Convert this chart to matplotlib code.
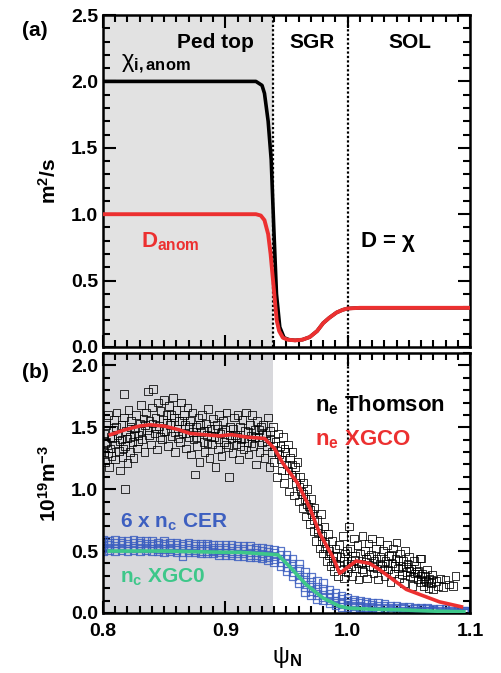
import numpy as np
import matplotlib.pyplot as plt
import matplotlib.ticker as ticker

plt.rcParams["font.family"] = ["Liberation Sans", "DejaVu Sans"]
plt.rcParams["font.weight"] = "bold"
plt.rcParams["axes.labelweight"] = "bold"
plt.rcParams["mathtext.fontset"] = "custom"
plt.rcParams["mathtext.rm"] = "Liberation Sans"
plt.rcParams["mathtext.bf"] = "Liberation Sans:bold"
plt.rcParams["mathtext.it"] = "Liberation Sans:italic"

# ── (a) transport coefficients ────────────────────────────────────────────
chi_psi = [0.80, 0.925, 0.930, 0.932, 0.935, 0.9375, 0.9396, 0.9418, 0.9445,
           0.948, 0.952, 0.957, 0.963, 0.969, 0.975, 0.980, 0.985, 0.991,
           0.996, 1.000, 1.010, 1.100]
chi_val = [2.00, 2.00, 1.97, 1.91, 1.70, 1.41, 0.90, 0.40, 0.15,
           0.07, 0.055, 0.05, 0.055, 0.075, 0.12, 0.18, 0.22, 0.26,
           0.28, 0.29, 0.295, 0.295]

d_psi = [0.80, 0.925, 0.929, 0.932, 0.935, 0.937, 0.939, 0.941, 0.942,
         0.944, 0.947, 0.951, 0.957, 0.963, 0.969, 0.975, 0.980, 0.985,
         0.991, 0.996, 1.000, 1.010, 1.100]
d_val = [1.00, 1.00, 0.99, 0.955, 0.85, 0.70, 0.50, 0.30, 0.20,
         0.12, 0.07, 0.055, 0.05, 0.055, 0.075, 0.12, 0.18, 0.22,
         0.26, 0.28, 0.29, 0.295, 0.295]

# ── (b) densities ─────────────────────────────────────────────────────────
# Thomson n_e
ne_pts = [
    (0.801, 1.45), (0.801, 1.30), (0.802, 1.22), (0.803, 1.52), (0.803, 1.38), (0.804, 1.60),
    (0.805, 1.18), (0.806, 1.42), (0.806, 1.33), (0.807, 1.27), (0.808, 1.48), (0.809, 1.56),
    (0.810, 1.36), (0.810, 1.24), (0.811, 1.62), (0.812, 1.44), (0.813, 1.31), (0.814, 1.15),
    (0.815, 1.52), (0.815, 1.40), (0.816, 1.26), (0.817, 1.77), (0.817, 1.58), (0.818, 1.00),
    (0.818, 1.35), (0.819, 1.47), (0.820, 1.21), (0.821, 1.64), (0.822, 1.42), (0.822, 1.30),
    (0.823, 1.55), (0.824, 1.38), (0.825, 1.25), (0.826, 1.49), (0.827, 1.60), (0.828, 1.33),
    (0.829, 1.44), (0.830, 1.53),
    (0.831, 1.68), (0.832, 1.40), (0.833, 1.57), (0.834, 1.30), (0.835, 1.62), (0.836, 1.48),
    (0.837, 1.79), (0.838, 1.55), (0.839, 1.36), (0.840, 1.66), (0.841, 1.81), (0.842, 1.45),
    (0.843, 1.58), (0.844, 1.32), (0.845, 1.70), (0.846, 1.51), (0.847, 1.63), (0.848, 1.40),
    (0.849, 1.56), (0.850, 1.72), (0.851, 1.47), (0.852, 1.60), (0.853, 1.35), (0.854, 1.67),
    (0.855, 1.52), (0.856, 1.43), (0.857, 1.74), (0.858, 1.58), (0.859, 1.30), (0.860, 1.64),
    (0.861, 1.49), (0.862, 1.55), (0.863, 1.38), (0.864, 1.70), (0.865, 1.45), (0.866, 1.60),
    (0.867, 1.52), (0.868, 1.33), (0.869, 1.66), (0.870, 1.42),
    (0.871, 1.55), (0.872, 1.28), (0.873, 1.62), (0.874, 1.40), (0.875, 1.12), (0.876, 1.50),
    (0.877, 1.35), (0.878, 1.58), (0.879, 1.22), (0.880, 1.46), (0.881, 1.60), (0.882, 1.38),
    (0.883, 1.30), (0.884, 1.53), (0.885, 1.44), (0.886, 1.65), (0.887, 1.25), (0.888, 1.49),
    (0.889, 1.36), (0.890, 1.57), (0.891, 1.42), (0.892, 1.18), (0.893, 1.52), (0.894, 1.32),
    (0.895, 1.60), (0.896, 1.45), (0.897, 1.27), (0.898, 1.55), (0.899, 1.38), (0.900, 1.48),
    (0.901, 1.62), (0.902, 1.34), (0.903, 1.10), (0.904, 1.50), (0.905, 1.41), (0.906, 1.29),
    (0.907, 1.58), (0.908, 1.44), (0.909, 1.36), (0.910, 1.60), (0.911, 1.24), (0.912, 1.50),
    (0.913, 1.40), (0.914, 1.56), (0.915, 1.32), (0.916, 1.47), (0.917, 1.62), (0.918, 1.38),
    (0.919, 1.28), (0.920, 1.52), (0.921, 1.43), (0.922, 1.60), (0.923, 1.35), (0.924, 1.48),
    (0.925, 1.20), (0.926, 1.55), (0.927, 1.42), (0.928, 1.30), (0.929, 1.50), (0.930, 1.38),
    (0.931, 1.52), (0.932, 1.25), (0.933, 1.44), (0.934, 1.35), (0.935, 1.58), (0.936, 1.18),
    (0.937, 1.40), (0.938, 1.30), (0.939, 1.50), (0.940, 1.22), (0.941, 1.38), (0.942, 1.10),
    (0.943, 1.45), (0.944, 1.28), (0.945, 1.35), (0.946, 1.15), (0.947, 1.42), (0.948, 1.05),
    (0.949, 1.30), (0.950, 1.20), (0.951, 1.36), (0.952, 0.98), (0.953, 1.25), (0.954, 1.12),
    (0.955, 1.30), (0.956, 0.95), (0.957, 1.18), (0.958, 1.05), (0.959, 1.22), (0.960, 0.90),
    (0.961, 1.10), (0.962, 0.98), (0.963, 0.85), (0.964, 1.05), (0.965, 0.92), (0.966, 0.78),
    (0.967, 1.00), (0.968, 0.86), (0.969, 0.72), (0.970, 0.92), (0.971, 0.80), (0.972, 0.66),
    (0.973, 0.85), (0.974, 0.58), (0.975, 0.75), (0.976, 0.68), (0.977, 0.52), (0.978, 0.80),
    (0.979, 0.62), (0.980, 0.48), (0.981, 0.70), (0.982, 0.56), (0.983, 0.42), (0.984, 0.64),
    (0.985, 0.50), (0.986, 0.38), (0.987, 0.58), (0.988, 0.45), (0.989, 0.34), (0.990, 0.52),
    (0.991, 0.40), (0.992, 0.30), (0.993, 0.55), (0.994, 0.45), (0.995, 0.35), (0.996, 0.62),
    (0.997, 0.28), (0.998, 0.48), (0.999, 0.40), (1.000, 0.33), (1.001, 0.70), (1.002, 0.52),
    (1.003, 0.42), (1.004, 0.30), (1.005, 0.60), (1.006, 0.46), (1.007, 0.36), (1.008, 0.55),
    (1.009, 0.27), (1.010, 0.48), (1.011, 0.40), (1.012, 0.62), (1.013, 0.33), (1.014, 0.50),
    (1.015, 0.44), (1.016, 0.28), (1.017, 0.56), (1.018, 0.38), (1.019, 0.47), (1.020, 0.60),
    (1.021, 0.32), (1.022, 0.42), (1.023, 0.52), (1.024, 0.36), (1.025, 0.27), (1.026, 0.58),
    (1.027, 0.45), (1.028, 0.38), (1.029, 0.50), (1.030, 0.30), (1.031, 0.42), (1.032, 0.55),
    (1.033, 0.35), (1.034, 0.46), (1.035, 0.25), (1.036, 0.40), (1.037, 0.52), (1.038, 0.32),
    (1.039, 0.44), (1.040, 0.57), (1.041, 0.36), (1.042, 0.28), (1.043, 0.48), (1.044, 0.38),
    (1.045, 0.42), (1.046, 0.24), (1.047, 0.50), (1.048, 0.33), (1.049, 0.40), (1.050, 0.45),
    (1.051, 0.30), (1.052, 0.36), (1.053, 0.22), (1.054, 0.42), (1.055, 0.32), (1.056, 0.38),
    (1.057, 0.27), (1.058, 0.34), (1.059, 0.44), (1.060, 0.25), (1.060, 0.44),
    (1.061, 0.32), (1.062, 0.22), (1.063, 0.30), (1.064, 0.26), (1.065, 0.35), (1.066, 0.20),
    (1.067, 0.28), (1.068, 0.24), (1.069, 0.31), (1.070, 0.19), (1.072, 0.26), (1.074, 0.22),
    (1.076, 0.28), (1.078, 0.21), (1.080, 0.27), (1.083, 0.23), (1.086, 0.22), (1.088, 0.30),
]
# denser core of the Thomson cloud
ne_core = [
    (0.8015, 1.37), (0.8045, 1.29), (0.8075, 1.41), (0.8105, 1.50), (0.8135, 1.39), (0.8165, 1.33),
    (0.8195, 1.41), (0.8225, 1.50), (0.8255, 1.43), (0.8285, 1.39), (0.8315, 1.47), (0.8345, 1.52),
    (0.8375, 1.44), (0.8405, 1.53), (0.8435, 1.49), (0.8465, 1.42), (0.8495, 1.47), (0.8525, 1.54),
    (0.8555, 1.60), (0.8585, 1.46), (0.8615, 1.41), (0.8645, 1.55), (0.8675, 1.45), (0.8705, 1.50),
    (0.8735, 1.46), (0.8765, 1.42), (0.8795, 1.52), (0.8825, 1.47), (0.8855, 1.37), (0.8885, 1.43),
    (0.8915, 1.49), (0.8945, 1.40), (0.8975, 1.46), (0.9005, 1.36), (0.9035, 1.44), (0.9065, 1.49),
    (0.9095, 1.42), (0.9125, 1.35), (0.9155, 1.41), (0.9185, 1.46), (0.9215, 1.37), (0.9245, 1.42),
    (0.9275, 1.48), (0.9305, 1.45), (0.9335, 1.39), (0.9365, 1.47), (0.9395, 1.35), (0.9425, 1.31),
    (0.9455, 1.24), (0.9485, 1.33), (0.9515, 1.15), (0.9545, 1.20), (0.9575, 1.10), (0.9605, 1.02),
    (0.9635, 0.96), (0.9665, 0.88), (0.9695, 0.83), (0.9725, 0.75), (0.9755, 0.65), (0.9785, 0.58),
    (0.9815, 0.52), (0.9845, 0.47), (0.9875, 0.42), (0.9905, 0.46), (0.9935, 0.38), (0.9965, 0.42),
    (0.9995, 0.50), (1.0025, 0.38), (1.0055, 0.43), (1.0085, 0.40), (1.0115, 0.35), (1.0145, 0.41),
    (1.0175, 0.45), (1.0205, 0.37), (1.0235, 0.44), (1.0265, 0.40), (1.0295, 0.35), (1.0325, 0.40),
    (1.0355, 0.47), (1.0385, 0.38), (1.0415, 0.43), (1.0445, 0.31), (1.0475, 0.37), (1.0505, 0.34),
    (1.0535, 0.29), (1.0565, 0.33), (1.0595, 0.30), (1.0625, 0.27), (1.0655, 0.25), (1.0685, 0.27),
]

# XGC0 n_e
xgc_psi = [0.806, 0.818, 0.830, 0.838, 0.850, 0.862, 0.871, 0.883, 0.895, 0.905, 0.918,
           0.932, 0.940, 0.947, 0.959, 0.969, 0.977, 0.988, 0.9935, 1.007, 1.018,
           1.026, 1.048, 1.075, 1.093]
xgc_val = [1.44, 1.48, 1.51, 1.52, 1.51, 1.48, 1.45, 1.44, 1.43, 1.44, 1.42,
           1.41, 1.33, 1.21, 1.05, 0.85, 0.645, 0.45, 0.32, 0.42, 0.40,
           0.35, 0.19, 0.09, 0.05]

# 6 x n_c CER : rows across the band (upper edge ... lower edge)
cer_psi = [0.800, 0.805, 0.810, 0.815, 0.820, 0.825, 0.830, 0.835, 0.840, 0.845,
           0.850, 0.855, 0.860, 0.865, 0.870, 0.875, 0.880, 0.885, 0.890, 0.895,
           0.900, 0.905, 0.910, 0.915, 0.920, 0.925, 0.930, 0.935, 0.940, 0.945,
           0.950, 0.955, 0.960, 0.965, 0.970, 0.975, 0.980, 0.985, 0.990, 0.995,
           1.000, 1.005, 1.010, 1.015, 1.020, 1.025, 1.030, 1.035, 1.040, 1.045,
           1.050, 1.055, 1.060, 1.065, 1.070, 1.075, 1.080, 1.085, 1.090, 1.095]
cer_hi = [0.59, 0.58, 0.59, 0.58, 0.58, 0.59, 0.58, 0.58, 0.58, 0.57,
          0.58, 0.57, 0.57, 0.56, 0.57, 0.56, 0.56, 0.56, 0.55, 0.55,
          0.55, 0.55, 0.54, 0.54, 0.54, 0.53, 0.53, 0.52, 0.51, 0.50,
          0.47, 0.44, 0.40, 0.33, 0.29, 0.26, 0.24, 0.19, 0.16, 0.14,
          0.12, 0.11, 0.10, 0.09, 0.08, 0.08, 0.07, 0.06, 0.06, 0.05,
          0.05, 0.04, 0.04, 0.04, 0.03, 0.03, 0.03, 0.03, 0.02, 0.02]
cer_uq = [0.565, 0.565, 0.565, 0.565, 0.56, 0.565, 0.565, 0.56, 0.56, 0.55,
          0.56, 0.55, 0.55, 0.54, 0.55, 0.54, 0.54, 0.54, 0.53, 0.53,
          0.53, 0.525, 0.52, 0.52, 0.515, 0.51, 0.505, 0.495, 0.485, 0.47,
          0.435, 0.40, 0.355, 0.29, 0.25, 0.215, 0.195, 0.155, 0.13, 0.115,
          0.10, 0.09, 0.08, 0.07, 0.065, 0.06, 0.055, 0.045, 0.045, 0.04,
          0.035, 0.03, 0.03, 0.03, 0.025, 0.02, 0.02, 0.02, 0.015, 0.015]
cer_mid = [0.54, 0.55, 0.54, 0.55, 0.54, 0.54, 0.55, 0.54, 0.54, 0.53,
           0.54, 0.53, 0.53, 0.52, 0.53, 0.52, 0.52, 0.52, 0.51, 0.51,
           0.51, 0.50, 0.50, 0.50, 0.49, 0.49, 0.48, 0.47, 0.46, 0.44,
           0.40, 0.36, 0.31, 0.25, 0.21, 0.17, 0.15, 0.12, 0.10, 0.09,
           0.08, 0.07, 0.06, 0.05, 0.05, 0.04, 0.04, 0.03, 0.03, 0.03,
           0.02, 0.02, 0.02, 0.02, 0.02, 0.01, 0.01, 0.01, 0.01, 0.01]
cer_lq = [0.52, 0.53, 0.52, 0.53, 0.52, 0.525, 0.525, 0.525, 0.52, 0.515,
          0.515, 0.515, 0.51, 0.49, 0.51, 0.505, 0.50, 0.50, 0.495, 0.49,
          0.49, 0.485, 0.48, 0.48, 0.47, 0.47, 0.46, 0.45, 0.435, 0.41,
          0.37, 0.33, 0.275, 0.21, 0.175, 0.14, 0.125, 0.10, 0.08, 0.07,
          0.065, 0.055, 0.05, 0.04, 0.04, 0.03, 0.03, 0.025, 0.02, 0.02,
          0.015, 0.015, 0.015, 0.015, 0.015, 0.005, 0.005, 0.005, 0.005, 0.005]
cer_lo = [0.50, 0.51, 0.50, 0.51, 0.50, 0.51, 0.50, 0.51, 0.50, 0.50,
          0.49, 0.50, 0.49, 0.46, 0.49, 0.49, 0.48, 0.48, 0.48, 0.47,
          0.47, 0.47, 0.46, 0.46, 0.45, 0.45, 0.44, 0.43, 0.41, 0.38,
          0.34, 0.30, 0.24, 0.17, 0.14, 0.11, 0.10, 0.08, 0.06, 0.05,
          0.05, 0.04, 0.04, 0.03, 0.03, 0.02, 0.02, 0.02, 0.01, 0.01,
          0.01, 0.01, 0.01, 0.01, 0.01, 0.00, 0.00, 0.00, 0.00, 0.00]

# XGC0 n_c
nc_psi = [0.805, 0.850, 0.900, 0.912, 0.943, 0.953, 0.966, 0.980, 0.993, 1.000,
          1.020, 1.043, 1.070, 1.095]
nc_val = [0.50, 0.50, 0.49, 0.49, 0.47, 0.37, 0.23, 0.12, 0.056, 0.04,
          0.03, 0.025, 0.015, 0.01]

RED = "#ec3030"
BLUE = "#3d5fc0"
GREEN = "#3ec78a"

fig = plt.figure(figsize=(5.01, 6.73), dpi=100)
ax1 = fig.add_axes([0.2056, 0.4844, 0.7325, 0.4933])
ax2 = fig.add_axes([0.2056, 0.0892, 0.7325, 0.3863])


def style(ax):
    ax.set_xlim(0.8, 1.1)
    ax.xaxis.set_major_locator(ticker.MultipleLocator(0.1))
    ax.xaxis.set_minor_locator(ticker.MultipleLocator(0.01))
    ax.yaxis.set_major_locator(ticker.MultipleLocator(0.5))
    ax.yaxis.set_minor_locator(ticker.MultipleLocator(0.1))
    ax.tick_params(which="both", direction="in", top=True, right=True, width=1.5,
                   labelsize=14)
    ax.tick_params(which="major", length=9)
    ax.tick_params(which="minor", length=5)
    ax.tick_params(axis="x", pad=7)
    for s in ax.spines.values():
        s.set_linewidth(1.8)
    ax.yaxis.set_major_formatter(ticker.FormatStrFormatter("%.1f"))
    ax.xaxis.set_major_formatter(ticker.FormatStrFormatter("%.1f"))


# ── panel (a) ─────────────────────────────────────────────────────────────
style(ax1)
ax1.set_ylim(0, 2.5)
ax1.axvspan(0.8, 0.939, color="#e2e2e2", lw=0, zorder=0)
ax1.axvline(0.939, color="k", ls=(0, (1, 1)), lw=1.6, zorder=1)
ax1.axvline(1.0, color="k", ls=(0, (1, 1)), lw=1.6, zorder=1)
ax1.plot(chi_psi, chi_val, color="k", lw=2.6, zorder=3)
ax1.plot(d_psi, d_val, color=RED, lw=2.8, zorder=4)
ax1.tick_params(labelbottom=False)

ax1.text(0.892, 2.29, "Ped top", fontsize=15, ha="center", va="center")
ax1.text(0.971, 2.29, "SGR", fontsize=15, ha="center", va="center")
ax1.text(1.051, 2.29, "SOL", fontsize=15, ha="center", va="center")
ax1.text(0.815, 2.13, r"χ$_{\mathbf{i,anom}}$", fontsize=17, fontweight="normal",
         ha="left", va="center")
ax1.text(0.831, 0.79, r"D$_{\mathbf{anom}}$", fontsize=16, color=RED,
         ha="left", va="center")
ax1.text(1.010, 0.79, r"D = $\mathrm{\chi}$", fontsize=16, ha="left", va="center")
ax1.set_ylabel(r"m$^{\mathbf{2}}$/s", fontsize=15, labelpad=8)
fig.text(0.07, 0.955, "(a)", fontsize=15, ha="center", va="center")

# ── panel (b) ─────────────────────────────────────────────────────────────
style(ax2)
ax2.set_ylim(0, 2.1)
ax2.axvspan(0.8, 0.939, color="#d8d8dc", lw=0, zorder=0)
ax2.axvline(1.0, color="k", ls=(0, (1, 1)), lw=1.6, zorder=1)

ne_all = ne_pts + ne_core
ne_psi = [p[0] for p in ne_all]
ne_val = [p[1] for p in ne_all]
ax2.scatter(ne_psi, ne_val, marker="s", s=30, facecolors="none",
            edgecolors="k", linewidths=0.7, alpha=0.8, zorder=2)
for band in (cer_hi, cer_uq, cer_mid, cer_lq, cer_lo):
    ax2.scatter(cer_psi, band, marker="s", s=30, facecolors="none",
                edgecolors=BLUE, linewidths=0.9, alpha=0.85, zorder=2)
ax2.plot(xgc_psi, xgc_val, color=RED, lw=2.6, zorder=4)
ax2.plot(nc_psi, nc_val, color=GREEN, lw=2.6, zorder=4)

ax2.text(0.973, 1.68, r"n$_{\mathbf{e}}$ Thomson", fontsize=16, ha="left", va="center")
ax2.text(0.973, 1.40, r"n$_{\mathbf{e}}$ XGCO", fontsize=16, color=RED,
         ha="left", va="center")
ax2.text(0.814, 0.73, r"6 x n$_{\mathbf{c}}$ CER", fontsize=15, color=BLUE,
         ha="left", va="center")
ax2.text(0.814, 0.29, r"n$_{\mathbf{c}}$ XGC0", fontsize=15, color=GREEN,
         ha="left", va="center")
ax2.set_ylabel(r"10$^{\mathbf{19}}$m$^{\mathbf{-3}}$", fontsize=15, labelpad=8)
ax2.set_xlabel(r"ψ$_{\mathbf{N}}$", fontsize=17, fontweight="normal", labelpad=4)
fig.text(0.07, 0.447, "(b)", fontsize=15, ha="center", va="center")

fig.savefig("out.png", dpi=100)
